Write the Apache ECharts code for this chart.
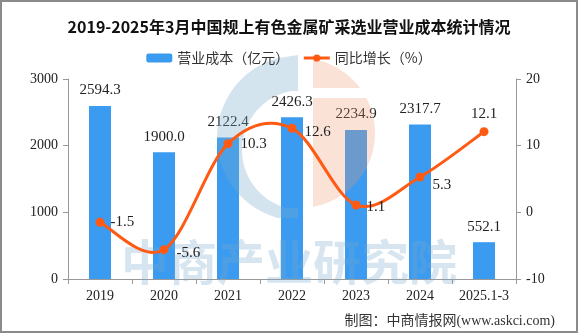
<!DOCTYPE html>
<html><head><meta charset="utf-8">
<script src="https://cdn.jsdelivr.net/npm/echarts@6/dist/echarts.min.js"></script>
<style>html,body{margin:0;padding:0;background:#fff}#c{width:578px;height:333px}</style>
</head><body><div id="c"></div>
<script>
const categories = ['2019','2020','2021','2022','2023','2024','2025.1-3'];
const costValues = [2594.3, 1900.0, 2122.4, 2426.3, 2234.9, 2317.7, 552.1];
const growthValues = [-1.5, -5.6, 10.3, 12.6, 1.1, 5.3, 12.1];
const leftTicks = [0, 1000, 2000, 3000];
const rightTicks = [-10, 0, 10, 20];

const numFont = 'Liberation Serif, "Noto Sans CJK SC", serif';
const cjkFont = '"Noto Sans CJK SC", sans-serif';
const growthLabelPos = ['right','right','right','right','right','right','top'];
const growthLabelOffset = [[0,0],[2,3],[2,0],[2,4],[0,2],[2,8],[0,0]];
const lineColor = '#FF5A14';

function arcPts(cx, cy, r, a0, a1, n) {
  const p = [];
  for (let i = 0; i <= n; i++) { const a = a0 + (a1 - a0) * i / n; p.push([cx + r * Math.cos(a), cy + r * Math.sin(a)]); }
  return p;
}
const chart = echarts.init(document.getElementById('c'));
// watermark logo geometry
const bOut = { cx: 300, cy: 138, r: 83 }, bIn = { cx: 302, cy: 150, r: 60 };
function xOnCircle(c, y, sign) { const d = Math.sqrt(Math.max(0, c.r * c.r - (y - c.cy) * (y - c.cy))); return c.cx + sign * d; }
function bluePoly() {
  const pts = [];
  const yTop = 55, yBot = 218, n = 50;
  for (let i = 0; i <= n; i++) { const y = yTop + (yBot - yTop) * i / n; pts.push([Math.min(xOnCircle(bOut, y, -1), 298), y]); }
  pts.push([298, yBot]);
  pts.push([298, 208]);
  const yi0 = 208, yi1 = 91;
  for (let i = 0; i <= n; i++) { const y = yi0 + (yi1 - yi0) * i / n; pts.push([Math.min(xOnCircle(bIn, y, -1), 298), y]); }
  pts.push([298, 91]); pts.push([298, yTop]);
  return pts;
}
const oC = { cx: 300, cy: 133, r: 75 };
function orangePiece(yTop, yBot) {
  const pts = [];
  const n = 40;
  for (let i = 0; i <= n; i++) { const y = yTop + (yBot - yTop) * i / n; pts.push([Math.max(313, xOnCircle(oC, y, 1)), y]); }
  pts.push([313, yBot]); pts.push([313, yTop]);
  return pts;
}
// Catmull-Rom style smoothing (like spreadsheet smoothed lines), points via axis scales
function smoothSegment(params, api) {
  const i = params.dataIndex;
  const n = growthValues.length;
  if (i >= n - 1) return null;
  const P = k => { const kk = Math.max(0, Math.min(n - 1, k)); return api.coord([kk, growthValues[kk]]); };
  const p0 = P(i - 1), p1 = P(i), p2 = P(i + 1), p3 = P(i + 2);
  return {
    type: 'bezierCurve',
    shape: {
      x1: p1[0], y1: p1[1], x2: p2[0], y2: p2[1],
      cpx1: p1[0] + (p2[0] - p0[0]) / 6, cpy1: p1[1] + (p2[1] - p0[1]) / 6,
      cpx2: p2[0] - (p3[0] - p1[0]) / 6, cpy2: p2[1] - (p3[1] - p1[1]) / 6
    },
    style: { stroke: lineColor, lineWidth: 3, fill: 'none' }
  };
}
chart.setOption({
  animation: false,
  backgroundColor: '#fff',
  title: {
    text: '2019-2025年3月中国规上有色金属矿采选业营业成本统计情况',
    left: 'center', top: 14,
    textStyle: { fontFamily: cjkFont, fontSize: 16, fontWeight: 'bold', color: '#111' }
  },
  legend: {
    top: 46, left: 'center', itemWidth: 26, itemHeight: 9, itemGap: 13,
    textStyle: { fontFamily: cjkFont, fontSize: 14, color: '#333' },
    data: [
      { name: '营业成本（亿元）' },
      { name: '同比增长（%）', lineStyle: { color: lineColor, width: 3, opacity: 1 }, itemStyle: { color: lineColor } }
    ]
  },
  grid: { left: 68, right: 62, top: 79, bottom: 54 },
  xAxis: {
    type: 'category', data: categories,
    axisLine: { lineStyle: { color: '#999' } },
    axisTick: { show: true, length: 5, lineStyle: { color: '#999' } },
    axisLabel: { interval: 0, fontFamily: numFont, fontSize: 14, color: '#222', margin: 10 }
  },
  yAxis: [
    { type: 'value', min: leftTicks[0], max: leftTicks[leftTicks.length - 1], interval: 1000,
      splitLine: { show: false },
      axisLine: { show: true, lineStyle: { color: '#999' } },
      axisTick: { show: true, length: 5, lineStyle: { color: '#999' } },
      axisLabel: { formatter: v => String(v), fontFamily: numFont, fontSize: 14, color: '#222', margin: 10 } },
    { type: 'value', min: rightTicks[0], max: rightTicks[rightTicks.length - 1], interval: 10,
      splitLine: { show: false },
      axisLine: { show: true, lineStyle: { color: '#999' } },
      axisTick: { show: true, length: 5, lineStyle: { color: '#999' } },
      axisLabel: { formatter: v => String(v), fontFamily: numFont, fontSize: 14, color: '#222', margin: 10 } }
  ],
  graphic: [
    { type: 'polygon', z: 3, silent: true, shape: { points: bluePoly() }, style: { fill: 'rgba(120,170,205,0.32)' } },
    { type: 'polygon', z: 3, silent: true, shape: { points: orangePiece(60, 88) }, style: { fill: 'rgba(240,150,110,0.28)' } },
    { type: 'polygon', z: 3, silent: true, shape: { points: orangePiece(98, 207) }, style: { fill: 'rgba(240,150,110,0.28)' } },
    { type: 'text', z: 3, silent: true, left: 'center', top: 238,
      style: { text: '中商产业研究院', fontFamily: cjkFont, fontSize: 48, fontWeight: 'bold', fill: 'rgba(120,170,205,0.3)' } },
    { type: 'text', z: 20, right: 23, top: 314,
      style: { text: '制图：中商情报网(www.askci.com)', fontFamily: 'Liberation Serif, "Noto Sans CJK SC"', fontSize: 14, fill: '#333' } },
    { type: 'rect', z: 20, silent: true, shape: { x: 1, y: 1, width: 576, height: 331 },
      style: { fill: 'none', stroke: '#8a8a8a', lineWidth: 2 } }
  ],
  series: [
    { name: '营业成本（亿元）', type: 'bar', data: costValues, barWidth: 22, z: 2,
      itemStyle: { color: '#3A9BF0' },
      label: { show: true, position: 'top', distance: 8, fontFamily: numFont, fontSize: 15, color: '#222',
        formatter: p => p.value.toFixed(1) } },
    { name: 'smoothLine', type: 'custom', yAxisIndex: 1, z: 9, silent: true,
      data: growthValues.map((v, i) => [i, v]),
      encode: { x: 0, y: 1 },
      renderItem: smoothSegment },
    { name: '同比增长（%）', type: 'line', yAxisIndex: 1, z: 10,
      data: growthValues.map((v, i) => ({ value: v, label: { position: growthLabelPos[i], offset: growthLabelOffset[i] } })),
      symbol: 'circle', symbolSize: 9,
      lineStyle: { color: lineColor, width: 3, opacity: 0 },
      itemStyle: { color: lineColor },
      label: { show: true, distance: 6, fontFamily: numFont, fontSize: 15, color: '#222',
        formatter: p => p.value.toFixed(1) } }
  ]
});
</script></body></html>
